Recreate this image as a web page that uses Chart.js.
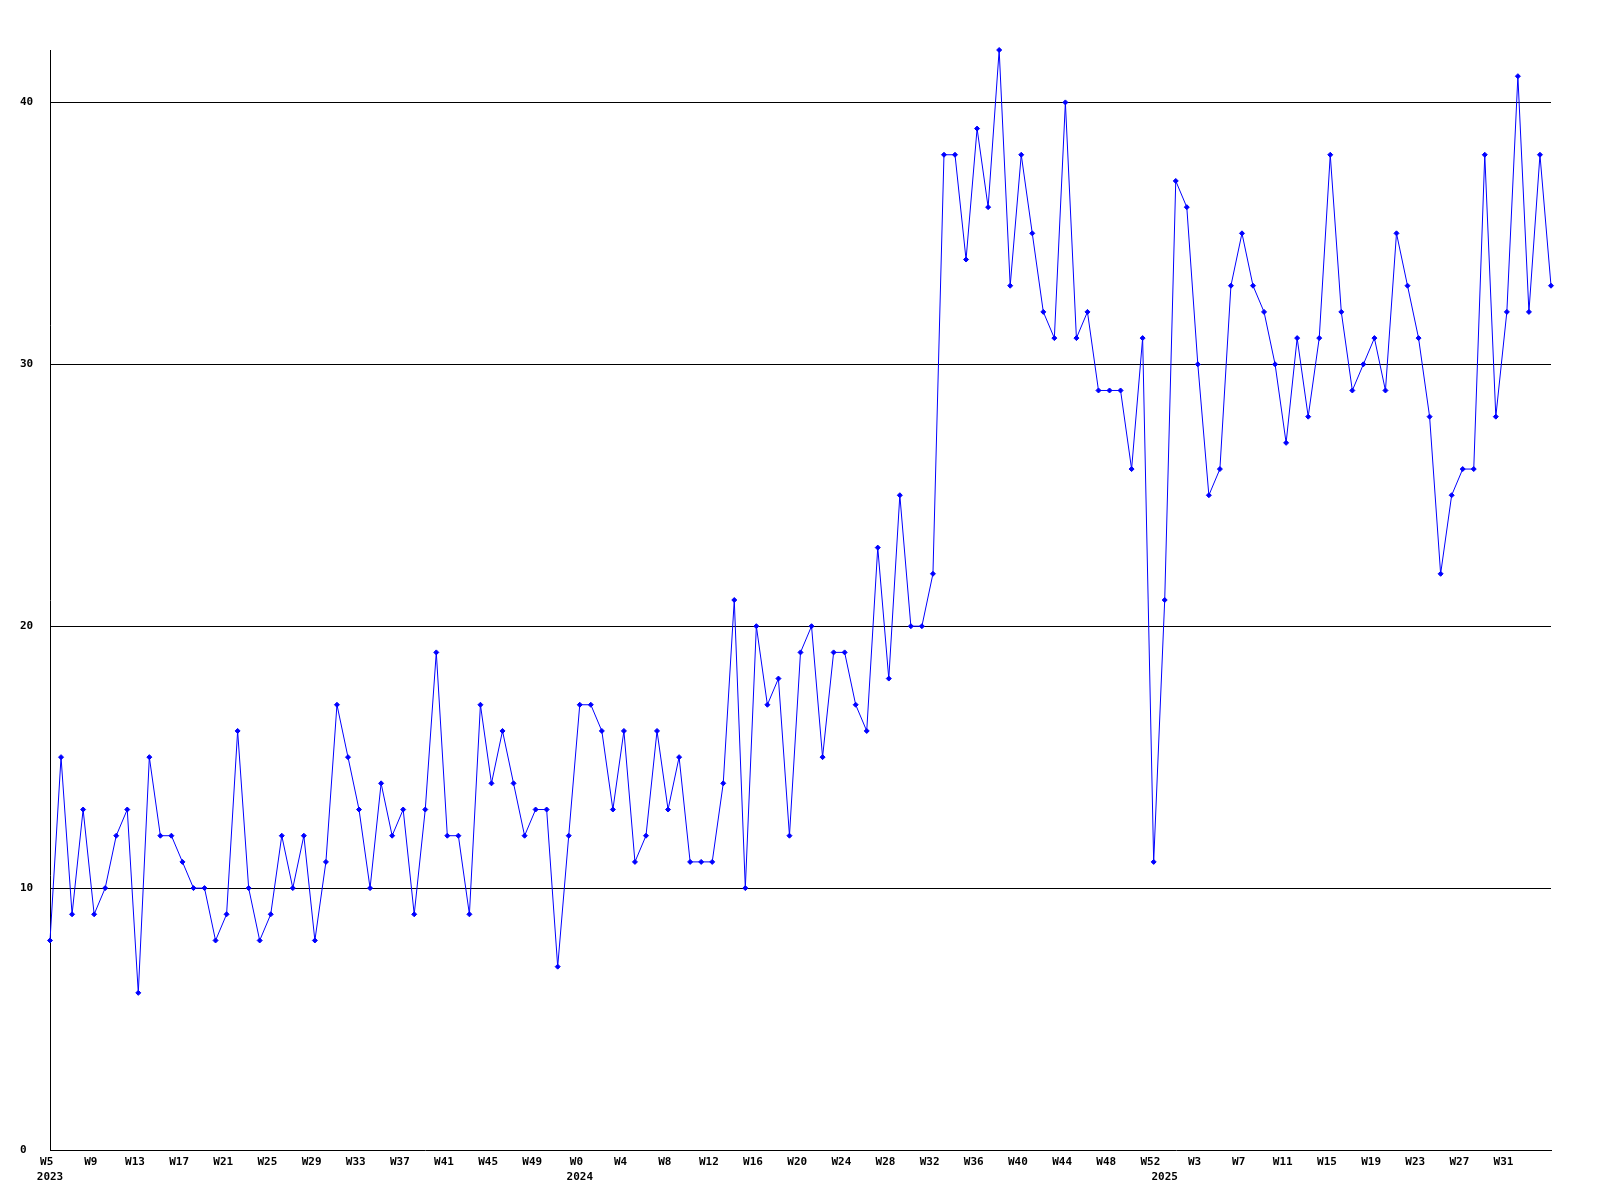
<!DOCTYPE html>
<html>
<head>
<meta charset="utf-8">
<script src="https://cdn.jsdelivr.net/npm/chart.js@4/dist/chart.umd.min.js"></script>
<style>
  html, body { margin: 0; padding: 0; background: #ffffff; }
  #wrap { width: 1600px; height: 1200px; position: relative; }
</style>
</head>
<body>
<div id="wrap"><canvas id="c" width="1600" height="1200"></canvas></div>
<script>
// Week ranges per year: [year, first week, last week]
const yearRanges = [[2023, 5, 52], [2024, 0, 52], [2025, 0, 35]];

const values2023 = [8,15,9,13,9,10,12,13,6,15,12,12,11,10,10,8,9,16,10,8,9,12,10,12,8,11,17,15,13,10,14,12,13,9,13,19,12,12,9,17,14,16,14,12,13,13,7,12];
const values2024 = [17,17,16,13,16,11,12,16,13,15,11,11,11,14,21,10,20,17,18,12,19,20,15,19,19,17,16,23,18,25,20,20,22,38,38,34,39,36,42,33,38,35,32,31,40,31,32,29,29,29,26,31,11];
const values2025 = [21,37,36,30,25,26,33,35,33,32,30,27,31,28,31,38,32,29,30,31,29,35,33,31,28,22,25,26,26,38,28,32,41,32,38,33];

const yTicks = [0, 10, 20, 30, 40];
const yMax = 42;
const labelEvery = 4;

const weekNums = [];
const weekYears = [];
yearRanges.forEach(([y, a, b]) => { for (let w = a; w <= b; w++) { weekNums.push(w); weekYears.push(y); } });
const categories = weekNums.map((w, i) => weekYears[i] + '-W' + w);
const values = values2023.concat(values2024, values2025);

const FONT = { family: '"DejaVu Sans Mono", monospace', size: 11, weight: 'bold', lineHeight: 1.36 };

new Chart(document.getElementById('c'), {
  type: 'line',
  data: {
    labels: categories,
    datasets: [{
      data: values,
      borderColor: '#0000ff',
      backgroundColor: '#0000ff',
      borderWidth: 1,
      tension: 0,
      fill: false,
      clip: false,
      pointStyle: 'rectRot',
      pointRadius: 2.5,
      pointBorderWidth: 1,
      pointBorderColor: '#0000ff',
      pointBackgroundColor: '#0000ff',
      pointHoverRadius: 2.5
    }]
  },
  options: {
    responsive: false,
    animation: false,
    devicePixelRatio: 1,
    layout: { padding: { left: 20, right: 49, top: 50, bottom: 15 } },
    plugins: { legend: { display: false }, tooltip: { enabled: false } },
    scales: {
      x: {
        type: 'category',
        offset: false,
        grid: { display: false, drawTicks: false },
        border: { display: true, color: '#000000', width: 1 },
        ticks: {
          autoSkip: false,
          maxRotation: 0,
          minRotation: 0,
          padding: 4.5,
          color: '#000000',
          font: FONT,
          callback: function (val, i) {
            const firstOfYear = (i === 0) || (weekYears[i] !== weekYears[i - 1]);
            const show = (i % labelEvery === 0) && (i < weekNums.length - 1);
            const wk = show ? ('W' + weekNums[i] + ' ') : '';
            if (firstOfYear) return [wk, String(weekYears[i])];
            return wk;
          }
        },
        afterFit: function (s) { s.height = 35; }
      },
      y: {
        min: 0,
        max: yMax,
        afterBuildTicks: function (s) { s.ticks = yTicks.map(v => ({ value: v })); },
        grid: {
          color: ctx => (ctx.tick && ctx.tick.value === 0) ? 'rgba(0,0,0,0)' : '#000000',
          lineWidth: 1,
          drawTicks: false
        },
        border: { display: true, color: '#000000', width: 1 },
        ticks: {
          crossAlign: 'far',
          padding: 0,
          color: '#000000',
          font: FONT
        },
        afterFit: function (s) { s.width = 30; }
      }
    }
  }
});
</script>
</body>
</html>
